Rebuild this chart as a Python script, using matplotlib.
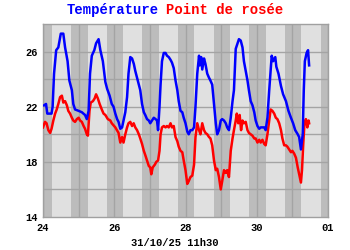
import matplotlib
matplotlib.use("Agg")
import matplotlib.pyplot as plt

# time in days from 24/10 00h00
temp_t = [0.03, 0.085, 0.12, 0.24, 0.27, 0.31, 0.37, 0.43, 0.50, 0.57, 0.62, 0.69, 0.74, 0.81,
          0.85, 0.90, 1.00, 1.09, 1.18, 1.23, 1.28, 1.32, 1.37, 1.44, 1.49, 1.56, 1.61, 1.68,
          1.75, 1.80, 1.87, 1.93, 1.98, 2.03, 2.08, 2.12, 2.17, 2.22, 2.26, 2.31, 2.36, 2.40,
          2.45, 2.50, 2.55, 2.59, 2.64, 2.69, 2.73, 2.78, 2.83, 2.87, 2.92, 2.97, 3.01, 3.06,
          3.11, 3.16, 3.20, 3.23, 3.27, 3.30, 3.34, 3.39, 3.44, 3.48, 3.53, 3.58, 3.62, 3.67,
          3.72, 3.77, 3.81, 3.86, 3.91, 3.95, 4.00, 4.05, 4.09, 4.14, 4.19, 4.24, 4.28, 4.33,
          4.38, 4.40, 4.44, 4.47, 4.52, 4.56, 4.61, 4.66, 4.70, 4.75, 4.80, 4.85, 4.89, 4.94,
          4.99, 5.03, 5.08, 5.13, 5.17, 5.22, 5.27, 5.32, 5.36, 5.41, 5.46, 5.50, 5.55, 5.60,
          5.64, 5.69, 5.74, 5.78, 5.83, 5.88, 5.93, 5.97, 6.02, 6.07, 6.11, 6.16, 6.21, 6.25,
          6.30, 6.35, 6.39, 6.42, 6.46, 6.52, 6.55, 6.61, 6.68, 6.74, 6.82, 6.89, 6.96, 7.02,
          7.08, 7.15, 7.19, 7.24, 7.29, 7.32, 7.35, 7.40, 7.44, 7.455, 7.47]
temp_v = [22.1, 22.2, 21.5, 21.5, 22.0, 24.4, 26.1, 26.3, 27.3, 27.3, 26.3, 25.3, 23.9, 23.2,
          22.2, 21.8, 21.7, 21.6, 21.4, 21.1, 21.7, 24.4, 25.7, 26.1, 26.6, 26.9, 26.1, 25.3,
          23.8, 23.3, 22.8, 22.2, 22.0, 21.5, 21.1, 20.9, 20.4, 20.5, 21.0, 21.6, 22.7, 24.4,
          25.6, 25.5, 25.1, 24.6, 24.1, 23.6, 23.2, 22.2, 21.6, 21.4, 21.1, 21.0, 20.8, 21.0,
          21.2, 21.1, 21.0, 20.3, 22.0, 23.6, 25.3, 25.9, 25.9, 25.7, 25.6, 25.4, 25.2, 24.8,
          23.9, 23.2, 22.4, 21.7, 21.6, 21.2, 20.8, 20.2, 20.0, 20.3, 20.3, 20.5, 22.0, 24.4,
          25.7, 25.0, 25.6, 24.7, 25.5, 25.1, 24.4, 24.1, 23.9, 23.6, 22.2, 20.8, 20.0, 20.3,
          21.0, 21.1, 21.0, 20.8, 20.5, 20.3, 21.2, 22.4, 23.2, 26.2, 26.6, 26.9, 26.8, 26.3,
          25.3, 24.6, 23.9, 23.2, 22.4, 22.1, 21.6, 21.0, 20.6, 20.4, 20.5, 20.5, 20.5, 20.3,
          21.2, 23.2, 24.6, 25.7, 25.3, 25.6, 24.9, 24.4, 23.5, 22.9, 22.4, 21.7, 21.2, 20.8,
          20.3, 20.0, 19.8, 18.9, 20.0, 23.2, 25.3, 25.9, 26.1, 25.6, 25.0]

dew_t = [0.0, 0.056, 0.10, 0.15, 0.20, 0.24, 0.29, 0.34, 0.385, 0.43, 0.48, 0.53, 0.57, 0.62,
         0.67, 0.71, 0.76, 0.81, 0.85, 0.90, 0.95, 1.00, 1.04, 1.09, 1.14, 1.18, 1.23, 1.26,
         1.305, 1.34, 1.40, 1.45, 1.49, 1.54, 1.59, 1.65, 1.70, 1.75, 1.82, 1.89, 1.93, 2.03,
         2.12, 2.17, 2.22, 2.26, 2.31, 2.36, 2.40, 2.45, 2.50, 2.545, 2.59, 2.64, 2.69, 2.73,
         2.78, 2.83, 2.87, 2.92, 2.97, 3.01, 3.04, 3.08, 3.14, 3.18, 3.23, 3.27, 3.30, 3.34,
         3.39, 3.44, 3.48, 3.53, 3.58, 3.62, 3.67, 3.72, 3.77, 3.81, 3.86, 3.91, 3.95, 4.00,
         4.05, 4.09, 4.14, 4.19, 4.24, 4.28, 4.33, 4.38, 4.42, 4.47, 4.52, 4.56, 4.61, 4.66,
         4.70, 4.75, 4.80, 4.85, 4.89, 4.94, 4.99, 5.03, 5.08, 5.13, 5.17, 5.22, 5.27, 5.32,
         5.36, 5.41, 5.44, 5.48, 5.52, 5.56, 5.60, 5.64, 5.69, 5.74, 5.78, 5.83, 5.88, 5.93,
         5.97, 6.02, 6.07, 6.11, 6.16, 6.21, 6.25, 6.30, 6.35, 6.39, 6.44, 6.49, 6.535, 6.58,
         6.63, 6.68, 6.72, 6.77, 6.82, 6.86, 6.91, 6.96, 7.00, 7.05, 7.10, 7.15, 7.19, 7.24,
         7.27, 7.305, 7.34, 7.38, 7.42, 7.455, 7.47]
dew_v = [20.5, 20.9, 20.8, 20.3, 20.1, 20.4, 21.0, 21.5, 21.8, 22.2, 22.7, 22.8, 22.3, 22.4,
         22.1, 21.7, 21.5, 21.2, 21.0, 20.9, 21.1, 21.2, 21.0, 20.9, 20.6, 20.4, 20.0, 19.9,
         21.7, 22.3, 22.4, 22.6, 22.9, 22.6, 22.2, 21.8, 21.5, 21.4, 21.1, 21.0, 20.8, 20.5,
         20.1, 19.4, 19.8, 19.4, 20.0, 20.5, 20.8, 20.9, 20.6, 20.8, 20.5, 20.3, 20.0, 19.7,
         19.3, 18.8, 18.5, 18.1, 17.7, 17.6, 17.1, 17.6, 17.8, 18.0, 18.1, 18.8, 20.0, 20.5,
         20.6, 20.5, 20.6, 20.5, 20.8, 20.5, 20.6, 19.8, 19.5, 19.1, 18.8, 18.7, 18.1, 17.4,
         16.4, 16.6, 16.9, 17.0, 17.8, 19.8, 20.8, 20.3, 20.0, 20.8, 20.3, 20.1, 20.0, 19.8,
         19.7, 19.2, 18.1, 17.4, 17.5, 16.9, 16.0, 16.6, 17.4, 17.2, 17.4, 16.9, 18.8, 19.7,
         20.3, 21.0, 21.5, 20.8, 21.4, 20.3, 21.0, 20.8, 20.9, 20.3, 20.1, 20.0, 19.9, 19.7,
         19.7, 19.4, 19.6, 19.4, 19.6, 19.3, 19.2, 20.0, 21.0, 21.8, 21.7, 21.5, 21.2, 21.1,
         20.8, 20.3, 19.7, 19.2, 19.2, 19.1, 18.9, 18.7, 18.8, 18.6, 18.3, 17.6, 17.1, 16.5,
         17.4, 19.3, 20.8, 21.1, 20.5, 21.0, 20.8]

day_ticks = [0, 2, 4, 6, 8]
day_labels = ["24", "26", "28", "30", "01"]
y_ticks = [14, 18, 22, 26]
stamp = "31/10/25 11h30"

fig = plt.figure(figsize=(3.5, 2.5), dpi=100)
ax = fig.add_axes([43 / 350, 1 - 217 / 250, 285 / 350, 193 / 250])
ax.set_facecolor("#e0e0e0")

# night bands around each midnight
for d in range(9):
    ax.axvspan(d - 0.21, d + 0.25, color="#bcbcbc", lw=0, zorder=0)

for d in range(9):
    ax.axvline(d, color="#a4a4a4", lw=1, zorder=1)
for y in range(16, 28, 2):
    ax.axhline(y, color="#a4a4a4", lw=1, zorder=1)

ax.plot(dew_t, dew_v, color="#ff0000", lw=1.8, zorder=3)
ax.plot(temp_t, temp_v, color="#0000ff", lw=1.8, zorder=4)

ax.set_xlim(0, 8)
ax.set_ylim(14, 28)
ax.set_xticks(day_ticks)
ax.set_xticklabels(day_labels)
ax.set_yticks(y_ticks)
ax.tick_params(length=0, pad=4, labelsize=7.5)
for lab in ax.get_xticklabels() + ax.get_yticklabels():
    lab.set_family("Liberation Mono")
    lab.set_weight("bold")
for s in ax.spines.values():
    s.set_color("#a0a0a0")
    s.set_linewidth(1)

fig.text(67 / 350, 1 - 10 / 250, "Température", color="#0000ff", family="Liberation Mono",
         weight="bold", fontsize=10, ha="left", va="center")
fig.text(166 / 350, 1 - 10 / 250, "Point de rosée", color="#ff0000", family="Liberation Mono",
         weight="bold", fontsize=10, ha="left", va="center")
fig.text(175 / 350, 1 - 243 / 250, stamp, family="Liberation Mono", weight="bold",
         fontsize=7.5, ha="center", va="center")

fig.savefig("out.png", dpi=100)
